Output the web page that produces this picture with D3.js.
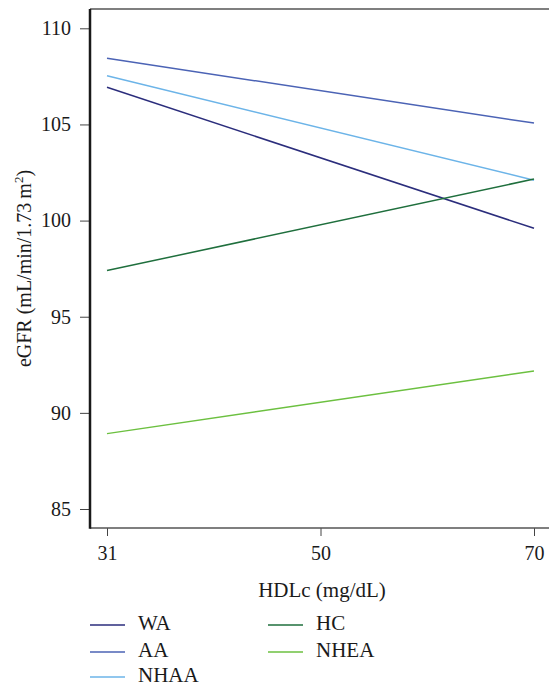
<!DOCTYPE html>
<html>
<head>
<meta charset="utf-8">
<script src="https://cdn.jsdelivr.net/npm/d3@7"></script>
<style>
  body { margin: 0; background: #fff; }
  text { font-family: "Liberation Serif", "DejaVu Serif", serif; fill: #1a1a1a; }
</style>
</head>
<body>
<div id="chart"></div>
<script>
let width = 549;
let height = 687;
let margin = ({top: 9, right: 0, bottom: 159, left: 90});

// HDLc values (x) and tick labels
let hdl = [31, 50, 70];
let yTicks = [85, 90, 95, 100, 105, 110];

// groups and their eGFR at HDLc 31 and 70
let groups = ["WA", "AA", "NHAA", "HC", "NHEA"];
let wa = [106.93, 99.6];
let aa = [108.44, 105.07];
let nhaa = [107.53, 102.1];
let hc = [97.4, 102.16];
let nhea = [88.92, 92.18];
let series = [wa, aa, nhaa, hc, nhea];

let colors = d3.scaleOrdinal()
    .domain(groups)
    .range(["#2b2d7c", "#4b63b5", "#6cb4e8", "#1f6f3d", "#6cc040"]);

let svg = d3.select("#chart")
    .append("svg")
    .attr("width", width)
    .attr("height", height);

// x positions look evenly spaced on the original, so use a point scale
let xScale = d3.scalePoint()
    .domain(hdl)
    .range([107, 534]);

let yScale = d3.scaleLinear()
    .domain([85, 110])
    .range([509, 28.3]);

let plotBottom = height - margin.bottom;   // x axis line

// top border
svg.append("line")
    .attr("x1", margin.left).attr("x2", width)
    .attr("y1", margin.top).attr("y2", margin.top)
    .attr("stroke", "#555").attr("stroke-width", 1.5);

// x axis
let xAxis = svg.append("g")
    .attr("transform", "translate(0," + plotBottom + ")")
    .call(d3.axisBottom(xScale).tickSize(8).tickPadding(10).tickSizeOuter(0));
xAxis.select(".domain").remove();
xAxis.append("line")
    .attr("x1", margin.left).attr("x2", width)
    .attr("stroke", "#555").attr("stroke-width", 1.5);
xAxis.selectAll(".tick line").attr("stroke", "#444");
xAxis.selectAll(".tick text").attr("font-size", 20).attr("fill", "#1a1a1a");

// y axis
let yAxis = svg.append("g")
    .attr("transform", "translate(" + margin.left + ",0)")
    .call(d3.axisLeft(yScale).tickValues(yTicks).tickSize(10).tickPadding(9));
yAxis.select(".domain").remove();
yAxis.append("line")
    .attr("y1", margin.top).attr("y2", plotBottom + 0.75)
    .attr("stroke", "#1a1a1a").attr("stroke-width", 2.5);
yAxis.selectAll(".tick line").attr("stroke", "#444");
yAxis.selectAll(".tick text").attr("font-size", 20).attr("fill", "#1a1a1a");

// axis titles
svg.append("text")
    .attr("x", 322).attr("y", 597)
    .attr("text-anchor", "middle")
    .attr("font-size", 21)
    .text("HDLc (mg/dL)");

let yTitle = svg.append("text")
    .attr("transform", "translate(31," + ((margin.top + plotBottom) / 2) + ") rotate(-90)")
    .attr("text-anchor", "middle")
    .attr("font-size", 20);
yTitle.append("tspan").text("eGFR (mL/min/1.73\u2009m");
yTitle.append("tspan").attr("dy", -8).attr("font-size", 13).text("2");
yTitle.append("tspan").attr("dy", 8).text(")");

// lines
let line = d3.line()
    .x(d => xScale(d.x))
    .y(d => yScale(d.y));

groups.forEach(function(g, i) {
    let pts = [{x: hdl[0], y: series[i][0]}, {x: hdl[2], y: series[i][1]}];
    svg.append("path")
        .datum(pts)
        .attr("fill", "none")
        .attr("stroke", colors(g))
        .attr("stroke-width", 1.5)
        .attr("d", line);
});

// legend
let legendPos = [[90, 625], [90, 652], [90, 677], [268, 625], [268, 652]];
groups.forEach(function(g, i) {
    let p = legendPos[i];
    svg.append("line")
        .attr("x1", p[0]).attr("x2", p[0] + 35)
        .attr("y1", p[1]).attr("y2", p[1])
        .attr("stroke", colors(g)).attr("stroke-width", 1.5);
    svg.append("text")
        .attr("x", p[0] + 48).attr("y", p[1] + 5)
        .attr("font-size", 21)
        .text(g);
});
</script>
</body>
</html>
